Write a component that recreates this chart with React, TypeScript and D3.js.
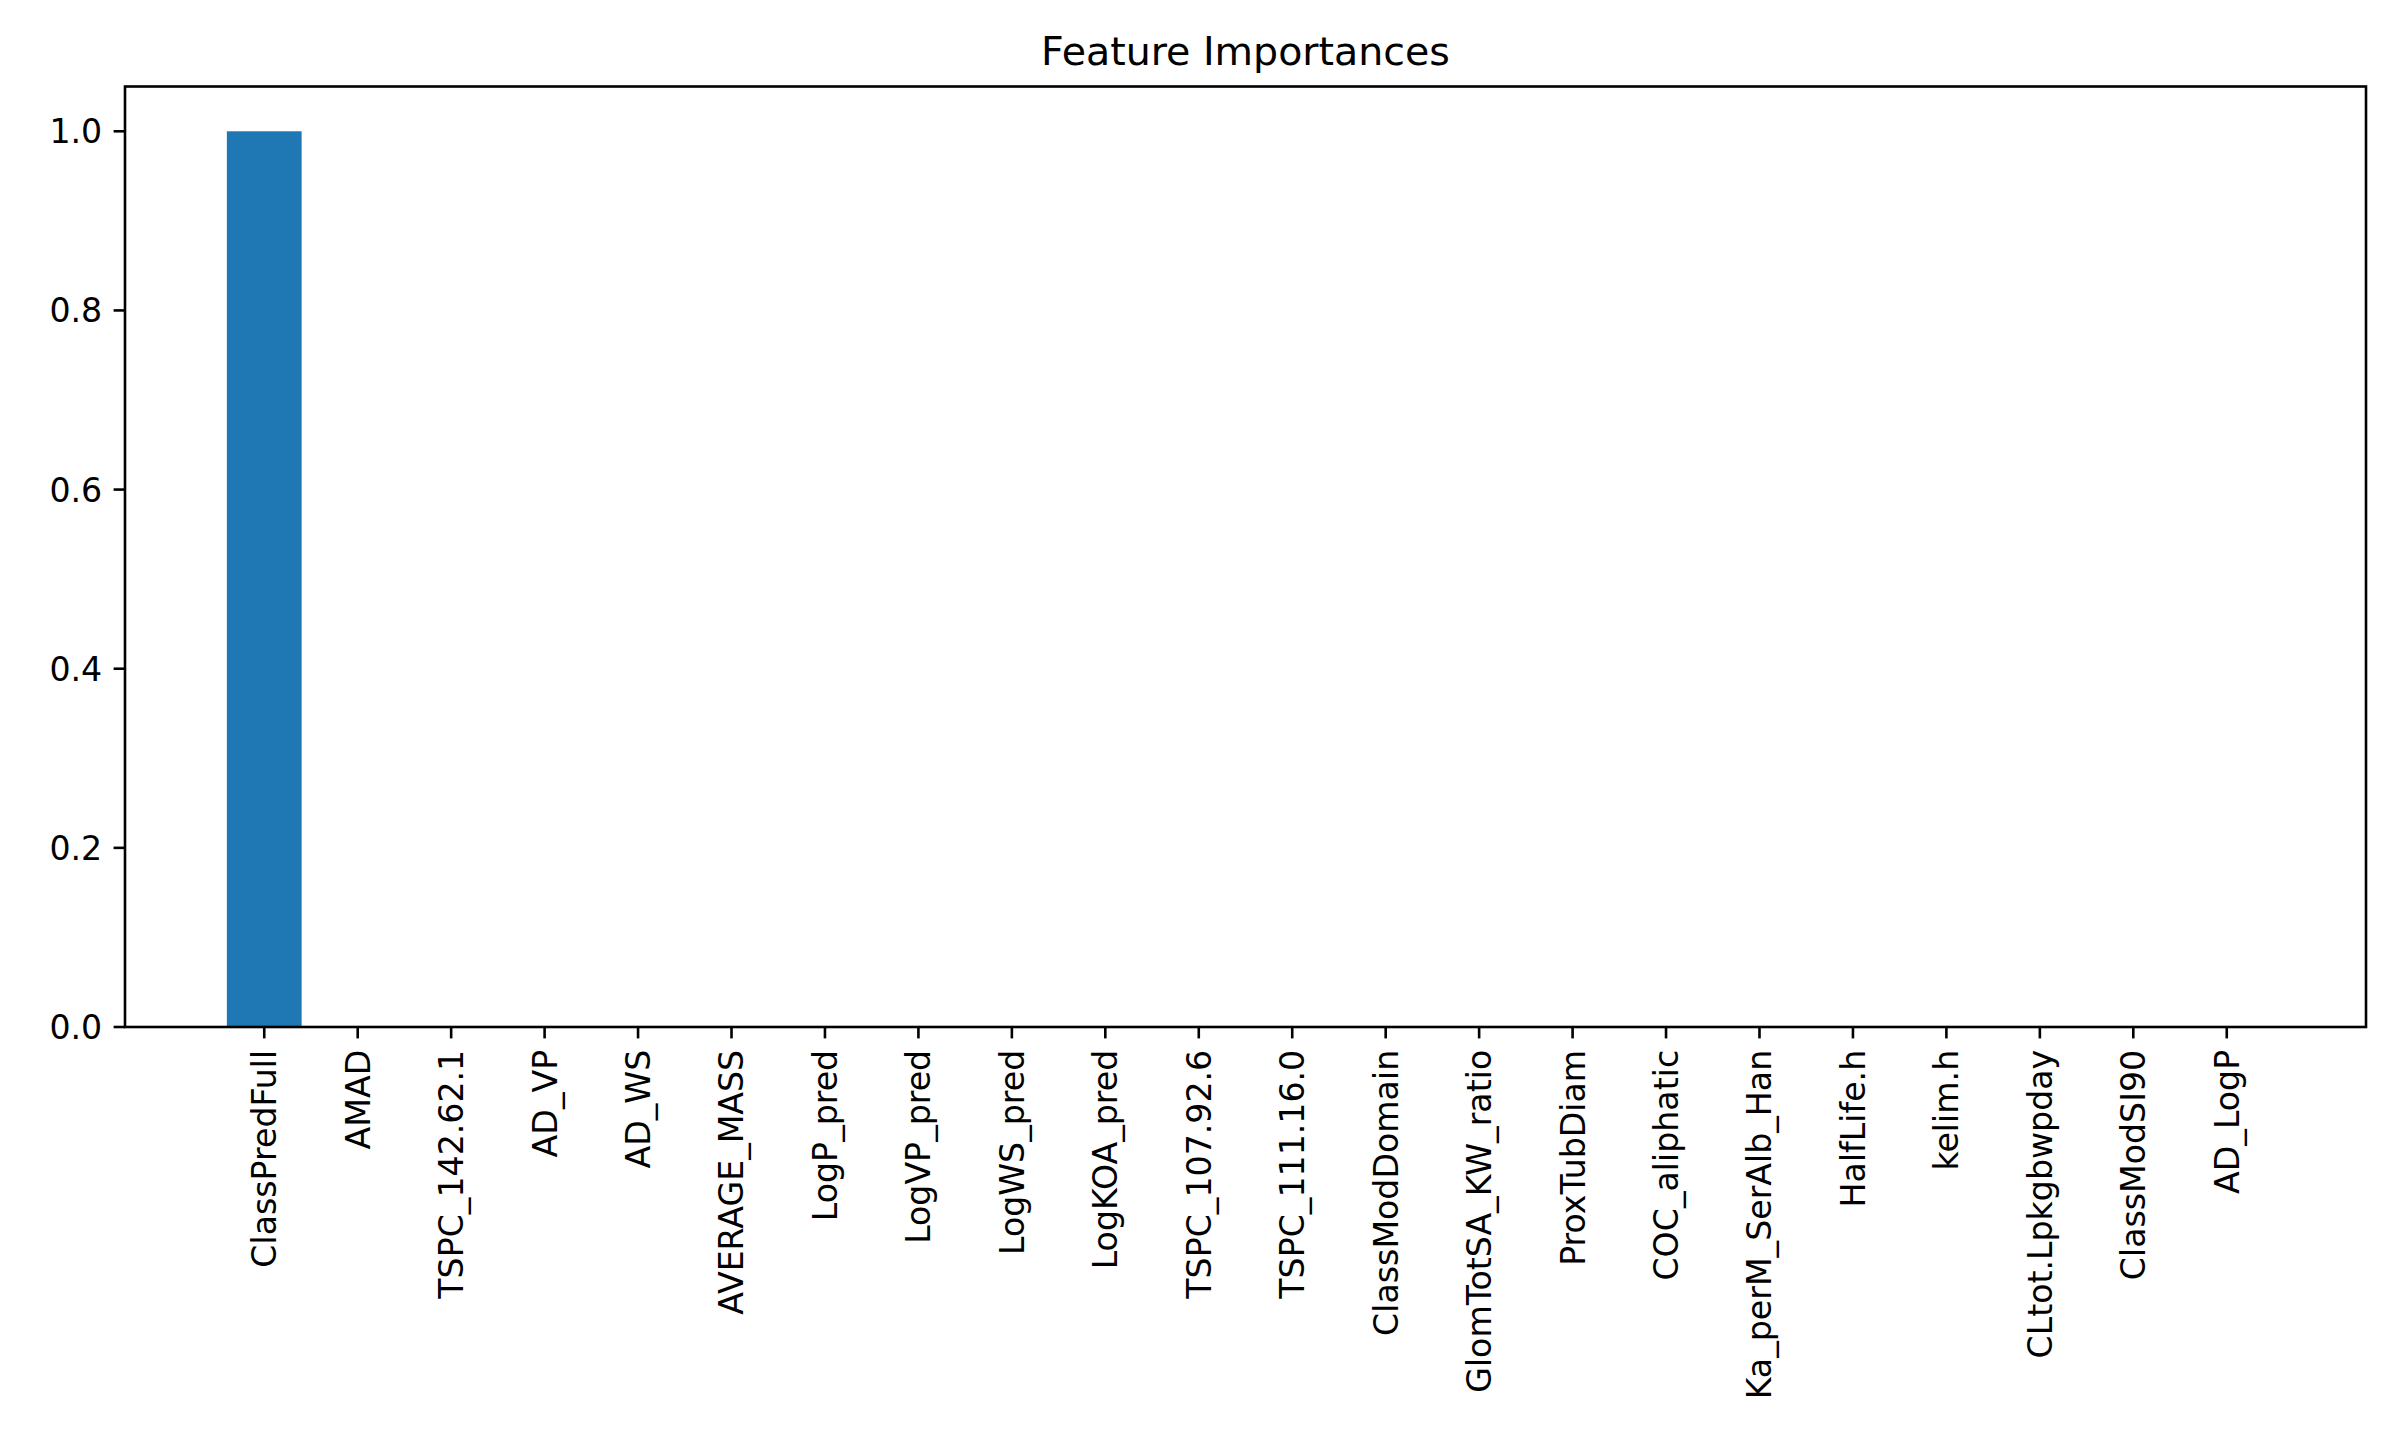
import React, { useEffect, useRef } from 'react';
import * as d3 from 'd3';

const features = [
  'ClassPredFull', 'AMAD', 'TSPC_142.62.1', 'AD_VP', 'AD_WS', 'AVERAGE_MASS',
  'LogP_pred', 'LogVP_pred', 'LogWS_pred', 'LogKOA_pred', 'TSPC_107.92.6',
  'TSPC_111.16.0', 'ClassModDomain', 'GlomTotSA_KW_ratio', 'ProxTubDiam',
  'COC_aliphatic', 'Ka_perM_SerAlb_Han', 'HalfLife.h', 'kelim.h',
  'CLtot.Lpkgbwpday', 'ClassModSI90', 'AD_LogP',
];
const importances = [1.0, 0, 0, 0, 0, 0, 0, 0, 0, 0, 0, 0, 0, 0, 0, 0, 0, 0, 0, 0, 0, 0];
const yTicks = [0, 0.2, 0.4, 0.6, 0.8, 1.0];
const title = 'Feature Importances';

const width = 2391;
const height = 1432;
const margin = { top: 86.5, right: 25, bottom: 405, left: 125 };

const App = () => {
  const svgRef = useRef<SVGSVGElement>(null);

  useEffect(() => {
    const svg = d3.select(svgRef.current);
    svg.selectAll('*').remove();

    const font = 'DejaVu Sans, sans-serif';
    const tickFont = 33.2;
    const tickLen = 11.4;
    const pad = 11.4;
    const lw = 2.6;

    const x0 = margin.left;
    const x1 = width - margin.right;
    const y0 = margin.top;
    const y1 = height - margin.bottom;

    // matplotlib style: bars at integer positions, width 0.8, 5% margins
    const n = features.length;
    const span = (n - 1) + 0.8;
    const x = d3.scaleLinear()
      .domain([-0.4 - span * 0.05, n - 1 + 0.4 + span * 0.05])
      .range([x0, x1]);
    const y = d3.scaleLinear()
      .domain([0, d3.max(importances)! * 1.05])
      .range([y1, y0]);

    const g = svg.append('g');

    // Bars
    g.selectAll('.bar')
      .data(importances)
      .enter().append('rect')
      .attr('class', 'bar')
      .attr('x', (d, i) => x(i - 0.4))
      .attr('width', x(0.8) - x(0))
      .attr('y', d => y(d))
      .attr('height', d => y(0) - y(d))
      .attr('fill', '#1f77b4');

    // Frame
    g.append('rect')
      .attr('x', x0)
      .attr('y', y0)
      .attr('width', x1 - x0)
      .attr('height', y1 - y0)
      .attr('fill', 'none')
      .attr('stroke', '#000')
      .attr('stroke-width', lw);

    // Y ticks
    const yt = g.selectAll('.ytick')
      .data(yTicks)
      .enter().append('g')
      .attr('class', 'ytick')
      .attr('transform', d => `translate(${x0},${y(d)})`);
    yt.append('line')
      .attr('x1', -tickLen).attr('x2', 0)
      .attr('stroke', '#000').attr('stroke-width', lw);
    yt.append('text')
      .attr('x', -tickLen - pad)
      .attr('dy', '0.36em')
      .attr('text-anchor', 'end')
      .style('font-family', font)
      .style('font-size', `${tickFont}px`)
      .attr('fill', '#000')
      .text(d => d3.format('.1f')(d));

    // X ticks
    const xt = g.selectAll('.xtick')
      .data(features)
      .enter().append('g')
      .attr('class', 'xtick')
      .attr('transform', (d, i) => `translate(${x(i)},${y1})`);
    xt.append('line')
      .attr('y1', 0).attr('y2', tickLen)
      .attr('stroke', '#000').attr('stroke-width', lw);
    xt.append('text')
      .attr('transform', `translate(0,${tickLen + pad}) rotate(-90)`)
      .attr('dy', '0.36em')
      .attr('text-anchor', 'end')
      .style('font-family', font)
      .style('font-size', `${tickFont}px`)
      .attr('fill', '#000')
      .text(d => d);

    // Title
    svg.append('text')
      .attr('x', (x0 + x1) / 2)
      .attr('y', 65)
      .attr('text-anchor', 'middle')
      .style('font-family', font)
      .style('font-size', '39.5px')
      .attr('fill', '#000')
      .text(title);
  }, []);

  return (
    <div style={{ position: 'absolute', left: 0, top: 0, background: '#fff' }}>
      <svg ref={svgRef} width={width} height={height} style={{ display: 'block' }}></svg>
    </div>
  );
};

export default App;
